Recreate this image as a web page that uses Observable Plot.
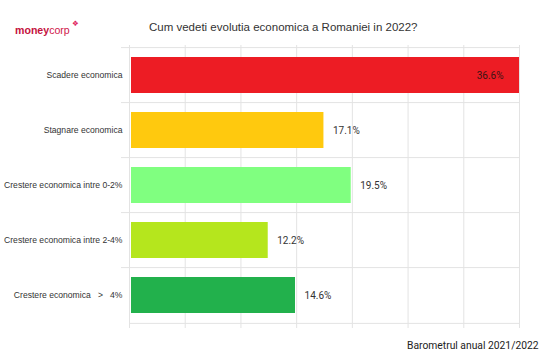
<!DOCTYPE html>
<html><head><meta charset="utf-8">
<script src="https://cdn.jsdelivr.net/npm/d3@7"></script>
<script src="https://cdn.jsdelivr.net/npm/@observablehq/plot@0.6"></script>
<style>
body{margin:0;background:#fff;}
#wrap{position:relative;width:550px;height:364px;overflow:hidden;}
#wrap svg{position:absolute;left:0;top:0;}
</style></head><body><div id="wrap"></div><script>
const categories = ["Scadere economica","Stagnare economica","Crestere economica intre 0-2%","Crestere economica intre 2-4%","Crestere economica\u00a0\u00a0\u00a0>\u00a0\u00a0\u00a04%"];
const values = [36.6, 17.1, 19.5, 12.2, 14.6];
const colors = ["#ED1C24","#FFC90E","#80FF80","#B5E61D","#22B14C"];
const title = "Cum vedeti evolutia economica a Romaniei in 2022?";
const caption = "Barometrul anual 2021/2022";

const data = categories.map((c, i) => ({category: c, value: values[i]}));
const W = 550, H = 364, mL = 129, mR = 31, mT = 45, mB = 40;
const xMax = 34.3;
const gridCount = 7;
const gridTicks = d3.range(gridCount + 1).map(i => i * xMax / gridCount);
const step = (H - mT - mB) / categories.length;
const gridColor = "#e3e3e3";

const chart = Plot.plot({
  width: W, height: H,
  marginLeft: mL, marginRight: mR, marginTop: mT, marginBottom: mB,
  style: {fontFamily: "'Liberation Sans', Arial, sans-serif", background: "#fff", overflow: "visible"},
  x: {domain: [0, xMax], axis: null},
  y: {domain: categories, paddingInner: 0.35, paddingOuter: 0.175, axis: null},
  color: {domain: categories, range: colors},
  marks: [
    Plot.ruleX(gridTicks, {stroke: gridColor, insetBottom: -4}),
    Plot.ruleY(categories, {y: d => d, dy: -step / 2, stroke: gridColor, insetLeft: -8}),
    Plot.ruleY([categories[categories.length - 1]], {y: d => d, dy: step / 2, stroke: gridColor}),
    Plot.barX(data, {x: "value", y: "category", fill: "category", clip: true, insetLeft: 2}),
    Plot.text(data.filter(d => d.value <= xMax), {x: "value", y: "category", text: d => d.value.toFixed(1) + "%", textAnchor: "start", dx: 9, fontSize: 10, fill: "#333", fontFamily: "Roboto"}),
    Plot.text(data.filter(d => d.value > xMax), {x: () => xMax, y: "category", text: d => d.value.toFixed(1) + "%", textAnchor: "end", dx: -16, fontSize: 10, fill: "#3a1515", fontFamily: "Roboto"}),
    Plot.axisY({tickSize: 0, tickPadding: 7, fontSize: 8.6, color: "#333", label: null})
  ]
});
const wrap = document.getElementById("wrap");
wrap.appendChild(chart);

const ov = d3.select(wrap).append("svg").attr("width", W).attr("height", H).style("pointer-events", "none");
const logo = ov.append("text").attr("x", 15).attr("y", 34).attr("font-family", "'Liberation Sans', Arial, sans-serif").attr("font-size", 10.6);
logo.append("tspan").attr("fill", "#c4123e").attr("font-weight", "bold").text("money");
logo.append("tspan").attr("fill", "#d0174a").text("corp");
ov.append("text").attr("x", 72).attr("y", 26).attr("font-family", "DejaVu Sans").attr("font-size", 7.5).attr("fill", "#e0245e").text("\u2756");
ov.append("text").attr("x", 149).attr("y", 31).attr("font-family", "'Liberation Sans', Arial, sans-serif").attr("font-size", 11.5).attr("fill", "#333").text(title);
ov.append("text").attr("x", 407).attr("y", 349).attr("font-family", "Roboto").attr("font-size", 10.3).attr("fill", "#222").text(caption);
</script></body></html>
